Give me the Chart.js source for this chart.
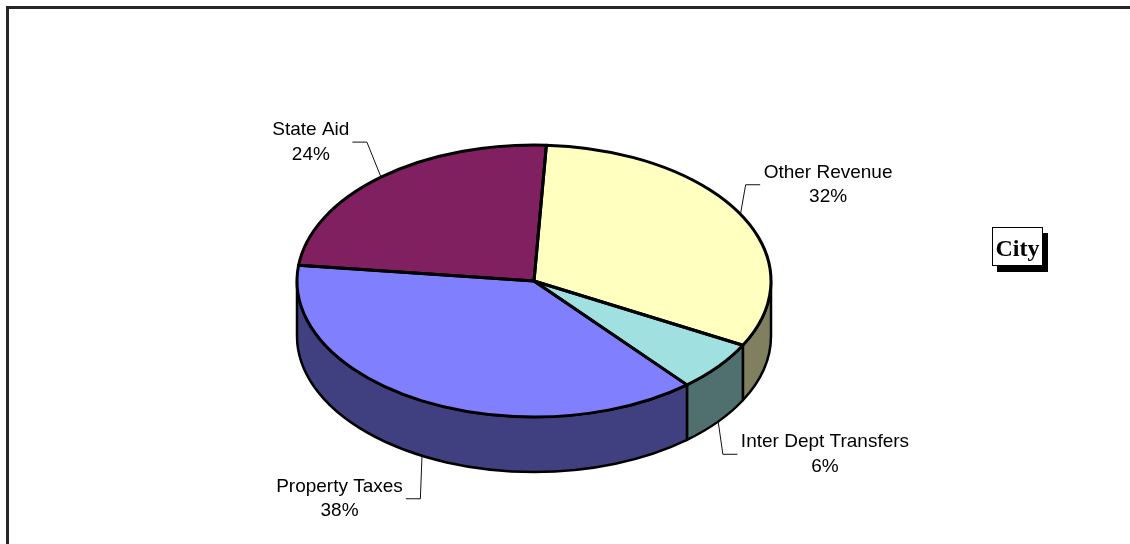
<!DOCTYPE html>
<html>
<head>
<meta charset="utf-8">
<script src="https://cdn.jsdelivr.net/npm/chart.js@4"></script>
<style>
  html, body { margin: 0; padding: 0; background: #fff; }
  #wrap { position: relative; width: 1130px; height: 544px; overflow: hidden; }
  #frame { position: absolute; left: 6px; top: 6px; width: 1130px; height: 600px;
           border-top: 3px solid #262626; border-left: 3px solid #262626; }
  #city { position: absolute; left: 992px; top: 227px; width: 51px; height: 39px; box-sizing: border-box;
          border: 1px solid #000; background: #fff; box-shadow: 5px 6px 0 #000;
          font: bold 24px "Liberation Serif", "Times New Roman", serif; color: #000;
          text-align: center; line-height: 37px; padding-top: 2px; }
  canvas { position: absolute; left: 0; top: 0; }
</style>
</head>
<body>
<div id="wrap">
  <canvas id="c" width="1130" height="544"></canvas>
  <div id="frame"></div>
  <div id="city">City</div>
</div>
<script>
// Revenue sources, clockwise from the top
const categories = ['Other Revenue', 'Inter Dept Transfers', 'Property Taxes', 'State Aid'];
const shares = [32, 6, 38, 24];
const shareLabels = ['32%', '6%', '38%', '24%'];
const topColors = ['#FFFFC0', '#A0E0E0', '#8080FF', '#802060'];
const sideColors = ['#808060', '#507070', '#404080', '#401030'];

// Label block placement relative to the slice's leader anchor
const labelOffsets = [[87.6, -29.5], [106.8, 32.7], [-82.5, 42.9], [-70.2, -35]];

const TILT = 136 / 237;   // vertical squash of the pie top
const DEPTH = 55;         // thickness of the pie wall
const LINE_W = 3;

function geom(chart) {
  const arcs = chart.getDatasetMeta(0).data;
  const a0 = arcs[0];
  return { arcs, cx: a0.x, cy: a0.y, r: a0.outerRadius, ry: a0.outerRadius * TILT };
}

function visibleRanges(s, e) {
  const out = [];
  for (let k = -2; k <= 2; k++) {
    const lo = Math.max(s, k * 2 * Math.PI), hi = Math.min(e, k * 2 * Math.PI + Math.PI);
    if (hi > lo) out.push([lo, hi]);
  }
  return out;
}

const pie3d = {
  id: 'pie3d',
  beforeDatasetsDraw(chart) {
    const ctx = chart.ctx;
    const { arcs, cx, cy, r, ry } = geom(chart);
    // front wall of the pie
    ctx.save();
    ctx.lineWidth = 2.5;
    ctx.strokeStyle = '#000';
    ctx.lineJoin = 'round';
    arcs.forEach((arc, i) => {
      visibleRanges(arc.startAngle, arc.endAngle).forEach(([a, b]) => {
        ctx.beginPath();
        ctx.ellipse(cx, cy, r, ry, 0, a, b);
        ctx.lineTo(cx + r * Math.cos(b), cy + ry * Math.sin(b) + DEPTH);
        ctx.ellipse(cx, cy + DEPTH, r, ry, 0, b, a, true);
        ctx.closePath();
        ctx.fillStyle = sideColors[i];
        ctx.fill();
        ctx.stroke();
      });
    });
    ctx.restore();
    // squash the top face drawn by the library
    ctx.save();
    ctx.translate(0, cy);
    ctx.scale(1, TILT);
    ctx.translate(0, -cy);
  },
  afterDatasetsDraw(chart) {
    const ctx = chart.ctx;
    ctx.restore();
    const { arcs, cx, cy, r } = geom(chart);
    ctx.save();
    ctx.lineWidth = LINE_W;
    ctx.strokeStyle = '#000';
    ctx.lineJoin = 'round';
    arcs.forEach(arc => {
      ctx.save();
      ctx.translate(0, cy);
      ctx.scale(1, TILT);
      ctx.translate(0, -cy);
      ctx.beginPath();
      ctx.moveTo(cx, cy);
      ctx.arc(cx, cy, r, arc.startAngle, arc.endAngle);
      ctx.closePath();
      ctx.restore();
      ctx.stroke();
    });
    ctx.restore();
  },
  afterDraw(chart) {
    const ctx = chart.ctx;
    const { arcs, cx, cy, r, ry } = geom(chart);
    ctx.save();
    ctx.font = '19px "Liberation Sans", Arial, sans-serif';
    ctx.fillStyle = '#000';
    ctx.strokeStyle = '#111';
    ctx.lineWidth = 1;
    ctx.textAlign = 'center';
    ctx.textBaseline = 'middle';
    arcs.forEach((arc, i) => {
      const mid = (arc.startAngle + arc.endAngle) / 2;
      const ax = cx + r * Math.cos(mid);
      let ay = cy + ry * Math.sin(mid);
      if (Math.sin(mid) > 0) ay += DEPTH;
      const lx = ax + labelOffsets[i][0];
      const ly = ay + labelOffsets[i][1];
      const lines = [categories[i], shareLabels[i]];
      const w = Math.max(...lines.map(t => ctx.measureText(t).width));
      const side = labelOffsets[i][0] > 0 ? 1 : -1;
      const endX = side > 0 ? lx - w / 2 - 3.5 : lx + w / 2 + 3;
      const elbowX = endX - side * 14.5;
      ctx.beginPath();
      ctx.moveTo(ax, ay);
      ctx.lineTo(elbowX, ly);
      ctx.lineTo(endX, ly);
      ctx.stroke();
      ctx.fillText(lines[0], lx, ly - 12.2);
      ctx.fillText(lines[1], lx, ly + 12.2);
    });
    ctx.restore();
  }
};

new Chart(document.getElementById('c'), {
  type: 'pie',
  data: {
    labels: categories,
    datasets: [{ data: shares, backgroundColor: topColors, borderWidth: 0 }]
  },
  options: {
    responsive: false,
    animation: false,
    rotation: 3,
    radius: 237,
    layout: { padding: { left: 0, right: 62, top: 18, bottom: 0 } },
    plugins: { legend: { display: false }, tooltip: { enabled: false } },
    events: []
  },
  plugins: [pie3d]
});
</script>
</body>
</html>
